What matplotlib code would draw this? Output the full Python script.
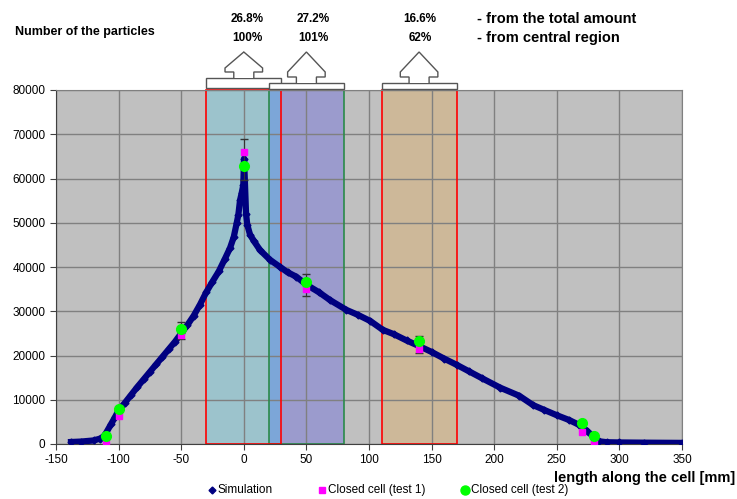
import matplotlib
matplotlib.use("Agg")
import matplotlib.pyplot as plt
from matplotlib.patches import Polygon, Rectangle
from matplotlib.lines import Line2D

plt.rcParams['font.family'] = ['Liberation Sans', 'DejaVu Sans']
plt.rcParams['axes.unicode_minus'] = False

# simulation curve
sim_x = [-138, -130, -120, -115, -112, -110, -106, -103, -100, -95, -90, -85, -80,
         -75, -70, -65, -60, -55, -50, -45, -40, -35, -30, -25, -20, -15, -11,
         -8, -5.7, -4.4, -3, -1.7, -0.4, 0.2,
         1.8, 2.8, 5, 8, 13, 21, 29, 35, 42, 50, 60, 69, 82, 91, 101, 111, 120,
         130, 141, 150, 160, 170, 180, 190, 205, 220, 231, 240, 250, 260, 268,
         274, 279, 284, 290, 300, 320, 350]
sim_y = [450, 550, 800, 1200, 1700, 2500, 4500, 6000, 7600, 9300, 11100, 12900, 14600,
         16300, 18000, 19700, 21400, 23100, 25000, 26900, 29000, 31500, 34300, 36700, 39000, 41900, 44300,
         46800, 49900, 51700, 55100, 56700, 58500, 64500,
         52000, 49500, 47300, 45900, 43800, 41600, 40000, 38800, 37800, 36000, 34300, 32500, 30300, 29200, 27800, 25800, 24800,
         23400, 22000, 20800, 19300, 17900, 16400, 14900, 12700, 10900, 8800, 7700, 6500, 5400, 4300,
         3000, 1700, 600, 400, 350, 300, 250]

# measurements
meas_x = [-110, -100, -50, 0, 50, 140, 270, 280]
test1_y = [300, 6300, 24600, 66000, 35000, 21500, 2800, 400]
test2_y = [1700, 7800, 26100, 62900, 36700, 23300, 4800, 1700]

# error bars
err_x = [-50, 0, 50, 140]
err_y = [25600, 64300, 35900, 22400]
err_d = [1950, 4650, 2500, 1900]

# regions along the cell
reg_lo = [-30, 20, 110]
reg_hi = [30, 80, 170]
pct_total = ['26.8%', '27.2%', '16.6%']
pct_central = ['100%', '101%', '62%']

W, H = 737, 499
fig = plt.figure(figsize=(W / 100, H / 100), dpi=100)
ax = fig.add_axes([56 / W, 1 - 444 / H, 626 / W, 354 / H])
ax.set_facecolor('#c0c0c0')

# shaded regions
ax.axvspan(-30, 20, color='#9cc3cc', zorder=1, lw=0)
ax.axvspan(20, 80, color='#9b9bcd', zorder=1, lw=0)
ax.axvspan(20, 30, color='#7ca6d8', zorder=1, lw=0)
ax.axvspan(110, 170, color='#cdb899', zorder=1, lw=0)
ax.add_patch(Rectangle((20, 0), 60, 80000, fill=False, ec='#2a8a4a', lw=1.2, zorder=1.6, clip_on=False))
ax.add_patch(Rectangle((-30, 0), 60, 80000, fill=False, ec='#ff0000', lw=1.2, zorder=1.7, clip_on=False))
ax.add_patch(Rectangle((110, 0), 60, 80000, fill=False, ec='#ff0000', lw=1.2, zorder=1.7, clip_on=False))

ax.set_axisbelow('line')
ax.grid(True, color='#808080', lw=1)

ax.plot(sim_x, sim_y, color='#000080', lw=4.5, marker='D', ms=3.5, zorder=3)
ax.errorbar(err_x, err_y, yerr=err_d, fmt='none', ecolor='#333333', elinewidth=0.8, capsize=3, zorder=4)
ax.plot(meas_x, test1_y, ls='none', marker='s', ms=5, color='#ff00ff', zorder=5)
ax.plot(meas_x, test2_y, ls='none', marker='o', ms=7, color='#00ff00', zorder=6)

ax.set_xlim(-150, 350)
ax.set_ylim(0, 80000)
ax.set_xticks(range(-150, 351, 50))
ax.set_yticks(range(0, 80001, 10000))
ax.tick_params(labelsize=8.5, length=4, color='#404040')
for s in ['top', 'right']:
    ax.spines[s].set_color('#808080')
for s in ['left', 'bottom']:
    ax.spines[s].set_color('#404040')

# block arrows above the regions
lev = [(80450, 82710, 84070, 84970), (80230, 81580, 82940, 84070), (80230, 81580, 82940, 84070)]
tip = 88590
for lo, hi, (b0, b1, s, w) in zip(reg_lo, reg_hi, lev):
    c = (lo + hi) / 2
    ax.add_patch(Rectangle((lo, b0), hi - lo, b1 - b0, fc='white', ec='#555555', lw=1, clip_on=False, zorder=7))
    pts = [(c - 8, b1), (c - 8, s), (c - 15, s), (c - 15, w), (c, tip),
           (c + 15, w), (c + 15, s), (c + 8, s), (c + 8, b1)]
    ax.add_patch(Polygon(pts, closed=False, fc='white', ec='#555555', lw=1, clip_on=False, zorder=7))

tx = [247, 313, 420]
for x, a, b in zip(tx, pct_total, pct_central):
    fig.text(x / W, 1 - 19 / H, a, ha='center', va='center', fontsize=8.5, fontweight='bold')
    fig.text(x / W, 1 - 38 / H, b, ha='center', va='center', fontsize=8.5, fontweight='bold')
fig.text(477 / W, 1 - 19 / H, '- from the total amount', ha='left', va='center', fontsize=10.5, fontweight='bold')
fig.text(477 / W, 1 - 38 / H, '- from central region', ha='left', va='center', fontsize=10.5, fontweight='bold')
fig.text(15 / W, 1 - 32 / H, 'Number of the particles', ha='left', va='center', fontsize=9, fontweight='bold')
fig.text(735 / W, 1 - 478 / H, 'length along the cell [mm]', ha='right', va='center', fontsize=10.5, fontweight='bold')

# legend, placed by hand
leg_labels = ['Simulation', 'Closed cell (test 1)', 'Closed cell (test 2)']
leg_marks = [('D', 3.5, '#000080'), ('s', 5, '#ff00ff'), ('o', 6.5, '#00ff00')]
leg_px = [212, 322, 465]
for px, lab, (m, ms, col) in zip(leg_px, leg_labels, leg_marks):
    fig.add_artist(Line2D([px / W], [1 - 490 / H], ls='none', marker=m, ms=ms, color=col,
                          transform=fig.transFigure))
    fig.text((px + 6) / W, 1 - 490 / H, lab, ha='left', va='center', fontsize=8.5)

fig.savefig('out.png', dpi=100)
